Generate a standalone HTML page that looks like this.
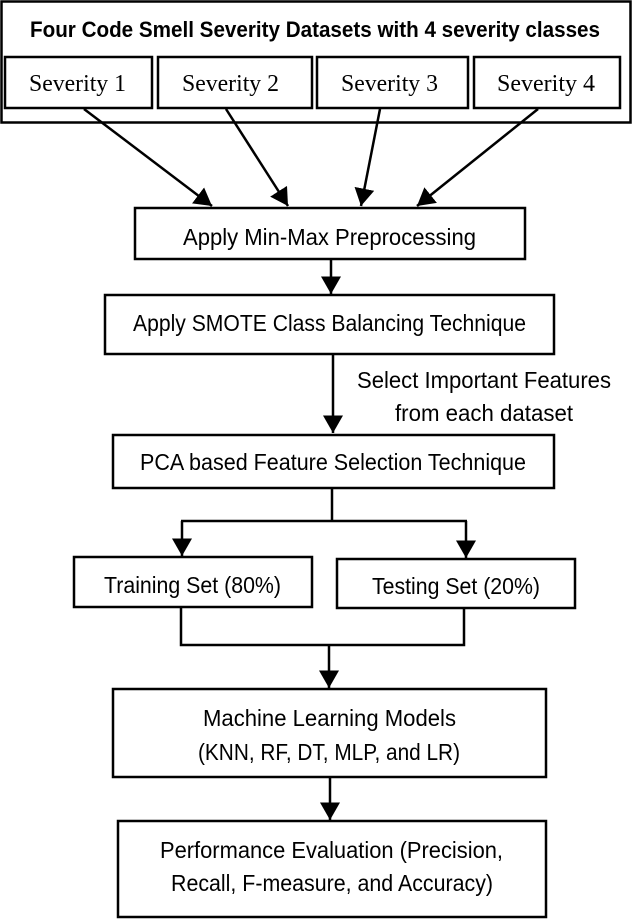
<!DOCTYPE html>
<html><head><meta charset="utf-8"><style>html,body{margin:0;padding:0;background:#fff}svg{display:block}</style></head>
<body>
<svg width="632" height="919" viewBox="0 0 632 919" xmlns="http://www.w3.org/2000/svg">
<defs>
<marker id="a" markerWidth="8" markerHeight="8" refX="7" refY="4" orient="auto" markerUnits="strokeWidth">
<path d="M0,0 L7,4 L0,8 z" fill="#000"/></marker>
</defs>
<g fill="none" stroke="#000" stroke-width="2.5">
<rect x="1.5" y="1.5" width="629" height="121"/>
<rect x="5" y="57" width="147" height="51"/>
<rect x="158" y="57" width="154" height="51"/>
<rect x="317" y="57" width="151" height="51"/>
<rect x="474" y="57" width="146" height="51"/>
<rect x="135" y="208" width="390" height="51"/>
<rect x="105" y="295" width="449" height="59"/>
<rect x="113" y="435" width="441" height="53"/>
<rect x="74" y="557" width="238" height="50"/>
<rect x="337" y="559" width="238" height="49"/>
<rect x="113" y="689" width="433" height="88"/>
<rect x="118" y="821" width="428" height="96"/>
</g>
<g stroke="#000" stroke-width="2.5" fill="none" marker-end="url(#a)">
<line x1="84" y1="109" x2="212" y2="206"/>
<line x1="226" y1="109" x2="288" y2="206"/>
<line x1="380" y1="109" x2="361" y2="206"/>
<line x1="538" y1="109" x2="417" y2="206"/>
<line x1="331" y1="259" x2="331" y2="294"/>
<line x1="333" y1="354" x2="333" y2="433"/>
<line x1="182" y1="521" x2="182" y2="556"/>
<line x1="466" y1="521" x2="466" y2="558"/>
<line x1="329" y1="645" x2="329" y2="688"/>
<line x1="330" y1="777" x2="330" y2="820"/>
</g>
<g stroke="#000" stroke-width="2.5" fill="none">
<line x1="332" y1="488" x2="332" y2="521"/>
<line x1="181" y1="521" x2="467" y2="521"/>
<polyline points="181,607 181,645 464,645 464,608"/>
</g>
<g font-family="Liberation Sans, sans-serif" font-size="23" fill="#000">
<text x="30" y="37" font-weight="bold" font-size="22" textLength="570" lengthAdjust="spacingAndGlyphs">Four Code Smell Severity Datasets with 4 severity classes</text>
<g font-family="Liberation Serif, serif" font-size="24">
<text x="29" y="91" textLength="97" lengthAdjust="spacingAndGlyphs">Severity 1</text>
<text x="182" y="91" textLength="97" lengthAdjust="spacingAndGlyphs">Severity 2</text>
<text x="341" y="91" textLength="97" lengthAdjust="spacingAndGlyphs">Severity 3</text>
<text x="497" y="91" textLength="98" lengthAdjust="spacingAndGlyphs">Severity 4</text>
</g>
<text x="183" y="245" textLength="293" lengthAdjust="spacingAndGlyphs">Apply Min-Max Preprocessing</text>
<text x="133" y="331" textLength="393" lengthAdjust="spacingAndGlyphs">Apply SMOTE Class Balancing Technique</text>
<text x="357" y="388" textLength="254" lengthAdjust="spacingAndGlyphs">Select Important Features</text>
<text x="395" y="421" textLength="178" lengthAdjust="spacingAndGlyphs">from each dataset</text>
<text x="140" y="470" textLength="386" lengthAdjust="spacingAndGlyphs">PCA based Feature Selection Technique</text>
<text x="104" y="593" textLength="177" lengthAdjust="spacingAndGlyphs">Training Set (80%)</text>
<text x="372" y="594" textLength="168" lengthAdjust="spacingAndGlyphs">Testing Set (20%)</text>
<text x="203" y="726" textLength="253" lengthAdjust="spacingAndGlyphs">Machine Learning Models</text>
<text x="198" y="760" textLength="262" lengthAdjust="spacingAndGlyphs">(KNN, RF, DT, MLP, and LR)</text>
<text x="160" y="858" textLength="343" lengthAdjust="spacingAndGlyphs">Performance Evaluation (Precision,</text>
<text x="171" y="891" textLength="322" lengthAdjust="spacingAndGlyphs">Recall, F-measure, and Accuracy)</text>
</g>
</svg>
</body></html>
